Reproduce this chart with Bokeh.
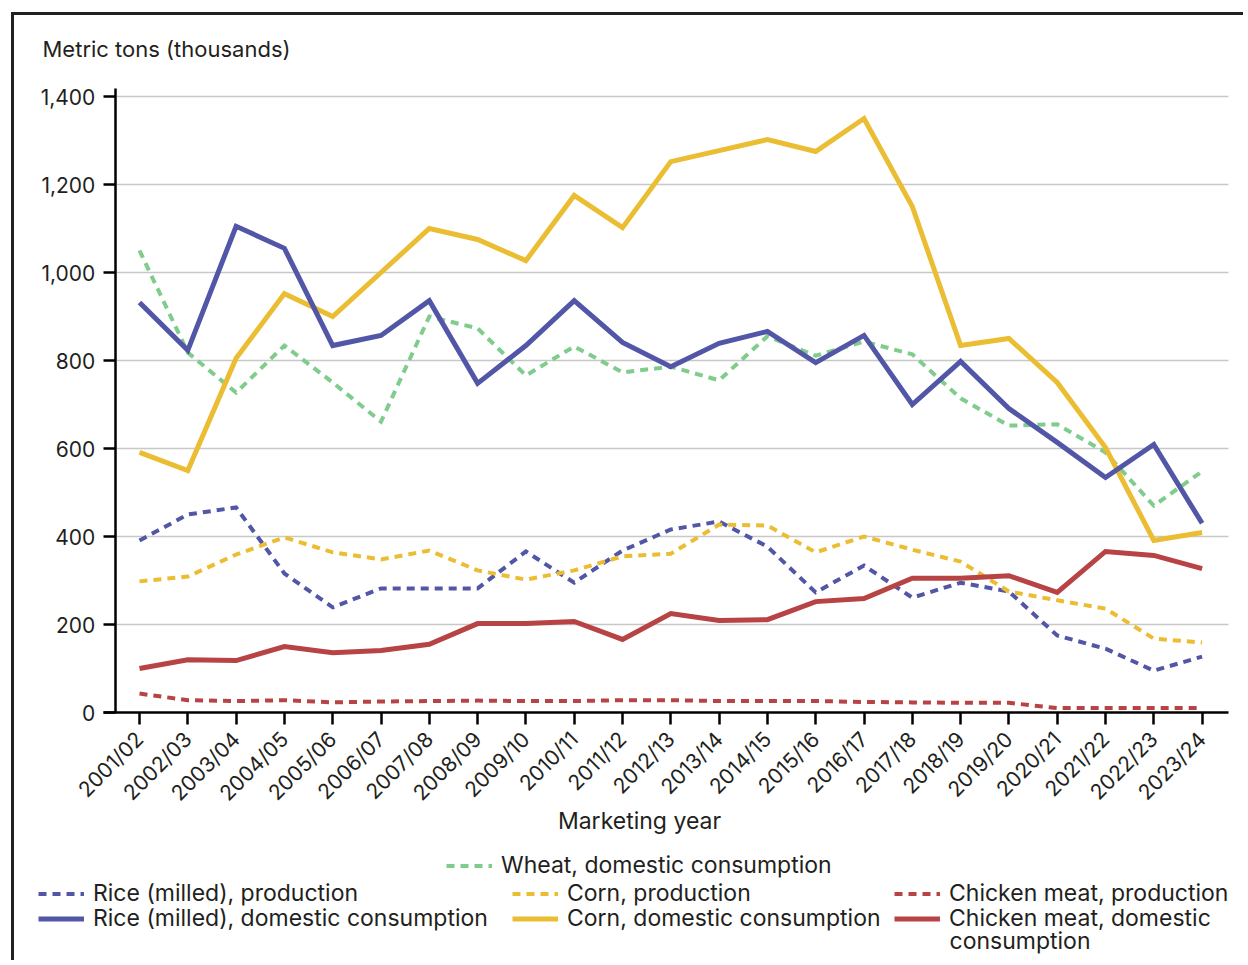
import math
from bokeh.plotting import figure
from bokeh.models import (Range1d, FixedTicker, NumeralTickFormatter,
                          Legend, LegendItem, Label, Grid)
from bokeh.embed import file_html
from bokeh.resources import INLINE

years = ["2001/02", "2002/03", "2003/04", "2004/05", "2005/06", "2006/07", "2007/08",
         "2008/09", "2009/10", "2010/11", "2011/12", "2012/13", "2013/14", "2014/15",
         "2015/16", "2016/17", "2017/18", "2018/19", "2019/20", "2020/21", "2021/22",
         "2022/23", "2023/24"]

wheat_cons = [1050, 818, 727, 834, 750, 661, 900, 873, 766, 832, 773, 786, 755, 855,
              811, 843, 814, 714, 652, 655, 591, 470, 548]
rice_prod = [391, 450, 466, 316, 239, 282, 282, 282, 366, 295, 368, 416, 434, 377,
             273, 334, 261, 295, 275, 175, 145, 95, 127]
rice_cons = [932, 823, 1105, 1055, 834, 857, 936, 748, 834, 936, 841, 786, 839, 866,
             795, 857, 700, 798, 691, 614, 534, 609, 430]
corn_prod = [298, 309, 359, 398, 364, 348, 368, 323, 302, 323, 355, 361, 427, 425,
             364, 400, 370, 343, 275, 255, 236, 168, 159]
corn_cons = [591, 550, 805, 952, 900, 1000, 1100, 1075, 1027, 1175, 1102, 1252, 1277, 1302,
             1275, 1350, 1150, 834, 850, 750, 602, 391, 409]
chicken_prod = [43, 28, 26, 28, 23, 25, 26, 27, 26, 26, 28, 28, 26, 26,
                26, 24, 23, 22, 22, 10, 10, 10, 10]
chicken_cons = [100, 120, 118, 150, 136, 141, 155, 202, 202, 207, 166, 225, 209, 211,
                252, 259, 305, 305, 311, 273, 366, 357, 327]

y_ticks = [0, 200, 400, 600, 800, 1000, 1200, 1400]
xs = list(range(len(years)))

FONT = "Inter"
TEXT = "#231f20"
BLUE = "#5256a6"
YELLOW = "#ebbd33"
GREEN = "#80cc8c"
RED = "#b84345"

# canvas origin on the page is (14, 15)
W, H = 1232, 948
PX_X = 48.3          # pixels per year
PX_Y = 0.44          # pixels per thousand tons
X0_CANVAS = 125      # canvas x of first year
Y0_CANVAS = 697      # canvas y of value 0

x_start = -X0_CANVAS / PX_X
x_end = (W - X0_CANVAS) / PX_X
y_end = Y0_CANVAS / PX_Y
y_start = (Y0_CANVAS - H) / PX_Y


def data_x(page_x):
    return (page_x - 139) / PX_X


def data_y(page_y):
    return (712 - page_y) / PX_Y


p = figure(width=W, height=H, output_backend="svg", toolbar_location=None,
           x_range=Range1d(x_start, x_end), y_range=Range1d(y_start, y_end),
           min_border_left=0, min_border_right=0, min_border_top=0,
           min_border_bottom=0,
           styles={"border-left": "3px solid #231f20", "border-top": "3px solid #231f20",
                   "margin-left": "11px", "margin-top": "12px"})
p.outline_line_color = None
p.background_fill_color = "white"
p.border_fill_color = "white"

p.xgrid.grid_line_color = None
p.ygrid.grid_line_color = None

if "cross_bounds" in Grid.properties():
    p.ygrid.grid_line_color = "#c8c8c8"
    p.ygrid.grid_line_width = 1.5
    p.ygrid.cross_bounds = (-0.5, 22.54)
    p.ygrid.ticker = FixedTicker(ticks=y_ticks[1:])
else:
    p.segment(x0=[-0.5] * (len(y_ticks) - 1), x1=[22.54] * (len(y_ticks) - 1),
              y0=y_ticks[1:], y1=y_ticks[1:], line_color="#c8c8c8", line_width=1.5)

xaxis = p.xaxis[0]
yaxis = p.yaxis[0]
xaxis.fixed_location = 0
yaxis.fixed_location = -0.5
xaxis.bounds = (-0.75, 22.54)
yaxis.bounds = (0, 1418)
yaxis.ticker = FixedTicker(ticks=y_ticks)
yaxis.formatter = NumeralTickFormatter(format="0,0")
xaxis.ticker = FixedTicker(ticks=xs)
xaxis.major_label_overrides = {i: y for i, y in enumerate(years)}

for ax in (xaxis, yaxis):
    ax.axis_line_color = "black"
    ax.axis_line_width = 2.5
    ax.major_tick_line_color = "black"
    ax.major_tick_line_width = 2.5
    ax.major_tick_out = 12
    ax.major_tick_in = 0
    ax.minor_tick_line_color = None
    ax.major_label_text_font = FONT
    ax.major_label_text_font_size = "21px"
    ax.major_label_text_color = TEXT

yaxis.major_label_standoff = 8
xaxis.major_label_standoff = 11
xaxis.major_label_orientation = math.pi / 4

ylab = Label(x=data_x(42), y=data_y(48), text="Metric tons (thousands)",
             text_align="left", text_baseline="middle", text_font=FONT,
             text_font_size="22px", text_color=TEXT)
p.add_layout(ylab)

xlab = Label(x=data_x(639), y=data_y(820), text="Marketing year",
             text_align="center", text_baseline="middle", text_font=FONT,
             text_font_size="23px", text_color=TEXT)
p.add_layout(xlab)

DASH = "8 6"
common = dict(line_join="miter")
r_wheat = p.line(xs, wheat_cons, line_color=GREEN, line_width=4, line_dash=DASH, **common)
r_rice_p = p.line(xs, rice_prod, line_color=BLUE, line_width=4, line_dash=DASH, **common)
r_corn_p = p.line(xs, corn_prod, line_color=YELLOW, line_width=4, line_dash=DASH, **common)
r_chick_p = p.line(xs, chicken_prod, line_color=RED, line_width=4, line_dash=DASH, **common)
r_corn_c = p.line(xs, corn_cons, line_color=YELLOW, line_width=5, **common)
r_rice_c = p.line(xs, rice_cons, line_color=BLUE, line_width=5, **common)
r_chick_c = p.line(xs, chicken_cons, line_color=RED, line_width=5, **common)

FRAME_LEFT_PAGE = 14
FRAME_BOTTOM_PAGE = 15 + H
HALF_ROW = 14


def make_legend(label, renderer, left_page, center_page):
    lg = Legend(items=[LegendItem(label=label, renderers=[renderer])],
                location=(left_page - FRAME_LEFT_PAGE,
                          FRAME_BOTTOM_PAGE - (center_page + HALF_ROW)),
                orientation="vertical", padding=0, margin=0, spacing=0,
                glyph_width=46, glyph_height=25, label_height=25, label_standoff=9,
                label_text_font=FONT, label_text_font_size="23px",
                label_text_color=TEXT, border_line_color=None,
                background_fill_alpha=0)
    p.add_layout(lg)
    return lg


make_legend("Wheat, domestic consumption", r_wheat, 446, 865)
make_legend("Rice (milled), production", r_rice_p, 38, 893)
make_legend("Rice (milled), domestic consumption", r_rice_c, 38, 918)
make_legend("Corn, production", r_corn_p, 512, 893)
make_legend("Corn, domestic consumption", r_corn_c, 512, 918)
make_legend("Chicken meat, production", r_chick_p, 894, 893)
make_legend("Chicken meat, domestic", r_chick_c, 894, 918)

wrap = Label(x=data_x(949), y=data_y(940), text="consumption",
             text_align="left", text_baseline="middle", text_font=FONT,
             text_font_size="23px", text_color=TEXT)
p.add_layout(wrap)

open("out.html", "w").write(file_html(p, INLINE))
